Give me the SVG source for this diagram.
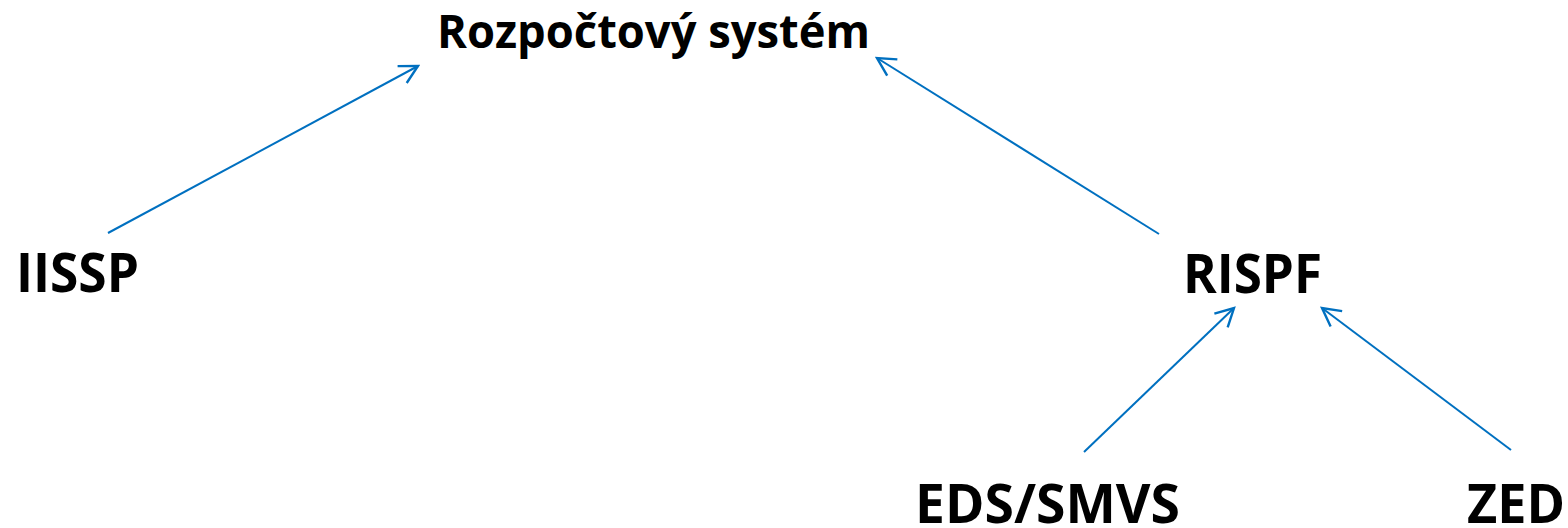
<svg xmlns="http://www.w3.org/2000/svg" width="1568" height="528" viewBox="0 0 1568 528">
<style>
.t{font-family:"Open Sans","Noto Sans","Liberation Sans",sans-serif;font-weight:bold;fill:#000}
.c{stroke:#0070C0;stroke-width:2;fill:none;marker-end:url(#a)}
</style>
<defs>
<marker id="a" markerUnits="userSpaceOnUse" markerWidth="24" markerHeight="24" refX="18" refY="10" orient="auto" viewBox="0 0 20 20">
<path d="M3,2 L18,10 L3,18" fill="none" stroke="#0070C0" stroke-width="2"/>
</marker>
</defs>
<rect width="1568" height="528" fill="#fff"/>
<g id="connectors">
<line class="c" x1="108" y1="233" x2="418" y2="66"/>
<line class="c" x1="1159" y1="234" x2="877" y2="58"/>
<line class="c" x1="1084" y1="452" x2="1234" y2="308"/>
<line class="c" x1="1511" y1="450" x2="1322" y2="308"/>
</g>
<g id="n-rozpoctovy"><text class="t" x="437" y="48" font-size="46" textLength="433" lengthAdjust="spacingAndGlyphs">Rozpočtový systém</text></g>
<g id="n-iissp"><text class="t" x="16" y="292" font-size="54" textLength="123" lengthAdjust="spacingAndGlyphs">IISSP</text></g>
<g id="n-rispf"><text class="t" x="1183" y="293" font-size="54" textLength="139" lengthAdjust="spacingAndGlyphs">RISPF</text></g>
<g id="n-eds"><text class="t" x="915" y="523" font-size="54" textLength="265" lengthAdjust="spacingAndGlyphs">EDS/SMVS</text></g>
<g id="n-zed"><text class="t" x="1467" y="523" font-size="54" textLength="98" lengthAdjust="spacingAndGlyphs">ZED</text></g>
</svg>
